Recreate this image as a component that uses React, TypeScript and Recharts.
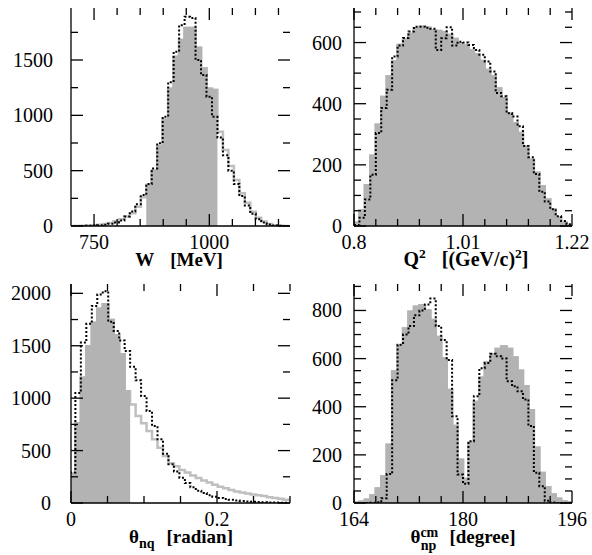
import React from 'react';
import { ComposedChart, Area, Line, XAxis, YAxis } from 'recharts';

const SERIF = "'Liberation Serif', 'Times New Roman', Times, serif";
const GRAY_FILL = '#b3b3b3';
const GRAY_LINE = '#bfbfbf';

// ---------- Panel 1 : W [MeV]
const wBinStart = 697;
const wBinWidth = 11.875;
const wGray = [0, 0, 2, 4, 7, 12, 18, 28, 42, 60, 85, 115, 175, 260, 370, 500, 720, 960, 1240, 1530, 1680, 1790, 1790, 1610, 1425, 1240, 1230, 852, 686, 542, 415, 295, 211, 129, 75, 40, 18, 7, 2, 0];
const wDotted = [0, 0, 1, 2, 4, 7, 12, 20, 32, 50, 85, 130, 196, 280, 380, 520, 747, 987, 1300, 1575, 1815, 1890, 1880, 1500, 1364, 1168, 987, 800, 640, 500, 380, 270, 185, 110, 62, 32, 14, 5, 2, 0];
const wFilled: [number, number] = [14, 26];
const wXDomain: [number, number] = [700, 1175];
const wYDomain: [number, number] = [0, 1970];
const wXTicks = [750, 800, 850, 900, 950, 1000, 1050, 1100, 1150];
const wXMajor = [750, 1000];
const wYTicks = [0, 250, 500, 750, 1000, 1250, 1500, 1750];
const wYMajor = [0, 500, 1000, 1500];

// ---------- Panel 2 : Q^2 [(GeV/c)^2]
const qBinStart = 0.8;
const qBinWidth = 0.0105;
const qGray = [11, 51, 133, 230, 331, 422, 489, 538, 592, 609, 628, 647, 652, 648, 640, 638, 634, 625, 612, 598, 590, 575, 562, 540, 510, 490, 450, 418, 369, 336, 304, 260, 217, 174, 130, 87, 54, 27, 11, 2];
const qDotted = [3, 27, 87, 168, 304, 386, 446, 554, 590, 615, 636, 652, 652, 648, 645, 576, 614, 650, 590, 603, 600, 592, 576, 560, 538, 505, 435, 424, 369, 358, 326, 262, 225, 170, 112, 80, 55, 32, 16, 6];
const qFilled: [number, number] = [0, 39];
const qXDomain: [number, number] = [0.8, 1.22];
const qYDomain: [number, number] = [0, 713];
const qXTicks = [0.8, 0.842, 0.884, 0.926, 0.968, 1.01, 1.052, 1.094, 1.136, 1.178, 1.22];
const qXMajor = [0.8, 1.01, 1.22];
const qYTicks = [0, 50, 100, 150, 200, 250, 300, 350, 400, 450, 500, 550, 600, 650, 700];
const qYMajor = [0, 200, 400, 600];

// ---------- Panel 3 : theta_nq [radian]
const tBinStart = -0.0015;
const tBinWidth = 0.0075;
const tGray = [280, 760, 1195, 1495, 1720, 1854, 1895, 1746, 1600, 1420, 1067, 940, 830, 760, 687, 607, 528, 448, 380, 350, 315, 290, 262, 238, 214, 195, 175, 155, 140, 125, 110, 100, 90, 82, 75, 66, 56, 48, 40, 32, 28];
const tDotted = [290, 1050, 1530, 1710, 1880, 1990, 2020, 1730, 1640, 1550, 1450, 1300, 1170, 1020, 877, 734, 607, 470, 370, 300, 240, 190, 150, 118, 95, 75, 60, 48, 38, 30, 24, 19, 15, 12, 9, 7, 5, 4, 3, 2, 2];
const tFilled: [number, number] = [0, 10];
const tXDomain: [number, number] = [0, 0.3];
const tYDomain: [number, number] = [0, 2089];
const tXTicks = [0, 0.05, 0.1, 0.15, 0.2, 0.25, 0.3];
const tXMajor = [0, 0.2];
const tYTicks = [0, 250, 500, 750, 1000, 1250, 1500, 1750, 2000];
const tYMajor = [0, 500, 1000, 1500, 2000];

// ---------- Panel 4 : theta_np^cm [degree]
const pBinStart = 164;
const pBinWidth = 0.8;
const pGray = [2, 5, 13, 31, 60, 110, 242, 546, 656, 725, 795, 815, 822, 800, 760, 690, 600, 470, 320, 180, 100, 250, 420, 520, 585, 618, 640, 650, 640, 605, 550, 485, 385, 230, 125, 65, 35, 18, 6, 2];
const pDotted = [0, 0, 0, 1, 3, 20, 120, 510, 658, 700, 735, 780, 800, 825, 850, 735, 677, 594, 360, 118, 80, 257, 444, 560, 582, 620, 610, 600, 506, 485, 464, 430, 320, 126, 70, 9, 2, 0, 0, 0];
const pFilled: [number, number] = [0, 39];
const pXDomain: [number, number] = [164, 196];
const pYDomain: [number, number] = [0, 910];
const pXTicks = [164, 167.2, 170.4, 173.6, 176.8, 180, 183.2, 186.4, 189.6, 192.8, 196];
const pXMajor = [164, 180, 196];
const pYTicks = [0, 50, 100, 150, 200, 250, 300, 350, 400, 450, 500, 550, 600, 650, 700, 750, 800, 850, 900];
const pYMajor = [0, 200, 400, 600, 800];

type Row = { x: number; gray: number; dot: number; fill: number | null };

function histogramRows(start: number, width: number, gray: number[], dotted: number[], filled: [number, number]): Row[] {
  const rows: Row[] = [];
  const n = gray.length;
  for (let i = 0; i <= n; i++) {
    const j = Math.min(i, n - 1);
    const inFill = i >= filled[0] && i <= filled[1] + 1;
    rows.push({
      x: start + width * i,
      gray: gray[j],
      dot: dotted[j],
      fill: inFill ? gray[Math.min(i, filled[1])] : null,
    });
  }
  return rows;
}

type PanelProps = {
  left: number;
  top: number;
  width: number;
  height: number;
  plotLeft: number;
  plotRight: number;
  plotTop: number;
  plotBottom: number;
  rows: Row[];
  xDomain: [number, number];
  yDomain: [number, number];
  xTicks: number[];
  xMajor: number[];
  yTicks: number[];
  yMajor: number[];
  yLabelGap: number;
};

const isMajor = (list: number[], v: number) => list.some((m) => Math.abs(m - v) < 1e-6);
const MAJOR_LEN = 12;
const MINOR_LEN = 7;
const AXIS_STROKE = { stroke: '#000', strokeWidth: 1.3 };
const tickTextStyle: React.CSSProperties = { fontFamily: SERIF, fontSize: 20 };

function Panel(p: PanelProps) {
  const plotW = p.plotRight - p.plotLeft;
  const plotH = p.plotBottom - p.plotTop;

  const xTick = (props: any) => {
    const { x, y, payload } = props;
    const major = isMajor(p.xMajor, payload.value);
    const len = major ? MAJOR_LEN : MINOR_LEN;
    return (
      <g>
        <line x1={x} x2={x} y1={y} y2={y - len} stroke="#000" strokeWidth={1.3} />
        <line x1={x} x2={x} y1={y - plotH} y2={y - plotH + len} stroke="#000" strokeWidth={1.3} />
        {major && (
          <text x={x} y={y + 23} textAnchor="middle" style={tickTextStyle} fill="#000">
            {String(payload.value)}
          </text>
        )}
      </g>
    );
  };

  const yTick = (props: any) => {
    const { x, y, payload } = props;
    const major = isMajor(p.yMajor, payload.value);
    const len = major ? MAJOR_LEN : MINOR_LEN;
    return (
      <g>
        <line x1={x} x2={x + len} y1={y} y2={y} stroke="#000" strokeWidth={1.3} />
        <line x1={x + plotW} x2={x + plotW - len} y1={y} y2={y} stroke="#000" strokeWidth={1.3} />
        {major && (
          <text x={x - p.yLabelGap} y={y} dy="0.35em" textAnchor="end" style={tickTextStyle} fill="#000">
            {String(payload.value)}
          </text>
        )}
      </g>
    );
  };

  return (
    <div style={{ position: 'absolute', left: p.left, top: p.top, width: p.width, height: p.height }}>
      <ComposedChart
        width={p.width}
        height={p.height}
        data={p.rows}
        margin={{ top: p.plotTop, right: p.width - p.plotRight, bottom: 0, left: 0 }}
      >
        <Area
          dataKey="gray"
          type="stepAfter"
          fill="none"
          stroke={GRAY_LINE}
          strokeWidth={2.5}
          dot={false}
          activeDot={false}
          isAnimationActive={false}
        />
        <Area
          dataKey="fill"
          type="stepAfter"
          fill={GRAY_FILL}
          fillOpacity={1}
          stroke={GRAY_FILL}
          strokeWidth={2.5}
          dot={false}
          activeDot={false}
          isAnimationActive={false}
        />
        <Line
          dataKey="dot"
          type="stepAfter"
          stroke="#000"
          strokeWidth={2}
          strokeDasharray="2 2"
          dot={false}
          activeDot={false}
          isAnimationActive={false}
        />
        <XAxis
          dataKey="x"
          type="number"
          domain={p.xDomain}
          allowDataOverflow
          ticks={p.xTicks}
          interval={0}
          height={p.height - p.plotBottom}
          tickSize={0}
          tickMargin={0}
          tickLine={false}
          axisLine={AXIS_STROKE}
          tick={xTick}
        />
        <XAxis
          xAxisId="top"
          orientation="top"
          type="number"
          domain={p.xDomain}
          allowDataOverflow
          height={0}
          tick={false}
          tickLine={false}
          axisLine={AXIS_STROKE}
        />
        <YAxis
          type="number"
          domain={p.yDomain}
          allowDataOverflow
          ticks={p.yTicks}
          interval={0}
          width={p.plotLeft}
          tickSize={0}
          tickMargin={0}
          tickLine={false}
          axisLine={AXIS_STROKE}
          tick={yTick}
        />
        <YAxis
          yAxisId="right"
          orientation="right"
          type="number"
          domain={p.yDomain}
          allowDataOverflow
          width={0}
          tick={false}
          tickLine={false}
          axisLine={AXIS_STROKE}
        />
      </ComposedChart>
    </div>
  );
}

const wRows = histogramRows(wBinStart, wBinWidth, wGray, wDotted, wFilled);
const qRows = histogramRows(qBinStart, qBinWidth, qGray, qDotted, qFilled);
const tRows = histogramRows(tBinStart, tBinWidth, tGray, tDotted, tFilled);
const pRows = histogramRows(pBinStart, pBinWidth, pGray, pDotted, pFilled);

export default function App() {
  const titleStyle: React.CSSProperties = { fontFamily: SERIF, fontWeight: 700, fontSize: 19 };
  return (
    <div style={{ position: 'absolute', left: 0, top: 0, width: 592, height: 555, background: '#fff', overflow: 'hidden' }}>
      <Panel
        left={0} top={0} width={296} height={277}
        plotLeft={71} plotRight={290} plotTop={8} plotBottom={226}
        rows={wRows} xDomain={wXDomain} yDomain={wYDomain}
        xTicks={wXTicks} xMajor={wXMajor} yTicks={wYTicks} yMajor={wYMajor}
        yLabelGap={18}
      />
      <Panel
        left={296} top={0} width={296} height={277}
        plotLeft={58} plotRight={276} plotTop={8} plotBottom={226}
        rows={qRows} xDomain={qXDomain} yDomain={qYDomain}
        xTicks={qXTicks} xMajor={qXMajor} yTicks={qYTicks} yMajor={qYMajor}
        yLabelGap={12}
      />
      <Panel
        left={0} top={277} width={296} height={278}
        plotLeft={71} plotRight={290} plotTop={7} plotBottom={226}
        rows={tRows} xDomain={tXDomain} yDomain={tYDomain}
        xTicks={tXTicks} xMajor={tXMajor} yTicks={tYTicks} yMajor={tYMajor}
        yLabelGap={20}
      />
      <Panel
        left={296} top={277} width={296} height={278}
        plotLeft={58} plotRight={276} plotTop={7} plotBottom={226}
        rows={pRows} xDomain={pXDomain} yDomain={pYDomain}
        xTicks={pXTicks} xMajor={pXMajor} yTicks={pYTicks} yMajor={pYMajor}
        yLabelGap={12}
      />
      <svg width={592} height={555} style={{ position: 'absolute', left: 0, top: 0, pointerEvents: 'none' }}>
        <text x={179} y={266} textAnchor="middle" style={titleStyle} fill="#000">
          W<tspan dx={16}>[MeV]</tspan>
        </text>
        <text x={466} y={266} textAnchor="middle" style={{ ...titleStyle, fontSize: 20 }} fill="#000">
          Q<tspan dy={-8} style={{ fontSize: 13.5 }}>2</tspan>
          <tspan dy={8} dx={16}>[(GeV/c)</tspan>
          <tspan dy={-8} style={{ fontSize: 13.5 }}>2</tspan>
          <tspan dy={8}>]</tspan>
        </text>
        <text x={181} y={543} textAnchor="middle" style={titleStyle} fill="#000">
          θ<tspan dy={5} style={{ fontSize: 14 }}>nq</tspan>
          <tspan dy={-5} dx={12}>[radian]</tspan>
        </text>
        <text x={463} y={543} textAnchor="middle" style={titleStyle} fill="#000">
          θ<tspan dy={-6} style={{ fontSize: 14 }}>cm</tspan>
          <tspan dy={13} dx={-17.5} style={{ fontSize: 14 }}>np</tspan>
          <tspan dy={-7} dx={13}>[degree]</tspan>
        </text>
      </svg>
    </div>
  );
}
